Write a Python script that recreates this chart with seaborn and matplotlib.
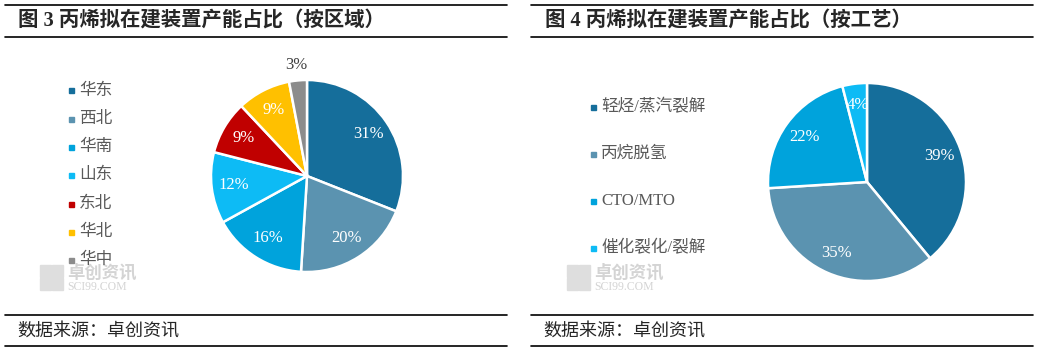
import matplotlib
matplotlib.use("Agg")
import matplotlib.pyplot as plt
from matplotlib.lines import Line2D
from matplotlib.patches import Rectangle
import seaborn as sns

# ---- data ----
region_labels = ["华东", "西北", "华南", "山东", "东北", "华北", "华中"]
region_share = [31, 20, 16, 12, 9, 9, 3]
region_colors = ["#156E9B", "#5B93B0", "#00A3DC", "#0DBBF5", "#C00000", "#FFC000", "#8C8C8C"]

process_labels = ["轻烃/蒸汽裂解", "丙烷脱氢", "CTO/MTO", "催化裂化/裂解"]
process_share = [39, 35, 22, 4]
process_colors = ["#156E9B", "#5B93B0", "#00A3DC", "#0DBBF5"]

W, H = 1037, 352
sns.set_theme(style="white")
plt.rcParams['font.family'] = ['Noto Sans CJK SC', 'DejaVu Sans']

fig = plt.figure(figsize=(W / 100, H / 100), dpi=100)


def fx(x):
    return x / W


def fy(y):
    return 1 - y / H


def hline(x0, x1, y, lw=1.2):
    fig.add_artist(Line2D([fx(x0), fx(x1)], [fy(y), fy(y)], color="black",
                          lw=lw, transform=fig.transFigure))


def draw_pie(cx, cy, r, values, colors, pctdist, half=120):
    ax = fig.add_axes([fx(cx - half), fy(cy + half), 2 * half / W, 2 * half / H])
    lim = half / r
    wedges, texts, autotexts = ax.pie(
        values, colors=colors, startangle=90, counterclock=False,
        autopct=lambda p: f"{p:.0f}%", pctdistance=pctdist,
        wedgeprops=dict(edgecolor="white", linewidth=1.8),
        textprops=dict(color="white", fontsize=12, family="Liberation Serif"))
    ax.set_xlim(-lim, lim)
    ax.set_ylim(-lim, lim)
    ax.set_aspect("equal")
    ax.axis("off")
    return ax, wedges, autotexts


def legend(x, ys, labels, colors):
    for y, lab, c in zip(ys, labels, colors):
        fig.add_artist(Rectangle((fx(x), fy(y + 2.5)), 5 / W, 5 / H, color=c,
                                 transform=fig.transFigure, zorder=5))
        fig.text(fx(x + 10), fy(y), lab, fontsize=12, color="#595959",
                 va="center", ha="left", family=["Liberation Serif", "Noto Sans CJK SC"],
                 zorder=5)


def watermark(x, y):
    # faint company logo in the lower-left corner of each panel
    for dx, dy in [(0, 0), (12, 0), (0, 13), (12, 13)]:
        fig.add_artist(Rectangle((fx(x + dx), fy(y + dy + 12)), 11 / W, 12 / H,
                                 color="#dedede", transform=fig.transFigure, zorder=1))
    fig.text(fx(x + 27), fy(y + 8), "卓创资讯", fontsize=12.5, color="#d4d4d4",
             weight="bold", va="center", ha="left", zorder=1)
    fig.text(fx(x + 27), fy(y + 22.5), "SCI99.COM", fontsize=8.5, color="#d4d4d4",
             family="Liberation Serif", va="center", ha="left", zorder=1)


# ---- frame lines and titles ----
for x0, x1 in [(5, 507), (531, 1033)]:
    hline(x0, x1, 5)
    hline(x0, x1, 37)
    hline(x0, x1, 315)
    hline(x0, x1, 346)

title_font = ["Liberation Serif", "Noto Sans CJK SC"]
fig.text(fx(18), fy(21.5), "图 3 丙烯拟在建装置产能占比（按区域）", fontsize=14.7,
         weight="bold", va="center", ha="left", family=title_font)
fig.text(fx(545), fy(21.5), "图 4 丙烯拟在建装置产能占比（按工艺）", fontsize=14.7,
         weight="bold", va="center", ha="left", family=title_font)
fig.text(fx(17), fy(332), "数据来源：卓创资讯", fontsize=13, va="center", ha="left")
fig.text(fx(543), fy(332), "数据来源：卓创资讯", fontsize=13, va="center", ha="left")

watermark(40, 265)
watermark(567, 265)

# ---- left pie ----
ax1, w1, a1 = draw_pie(307, 176, 96, region_share, region_colors, 0.77)
a1[-1].set_position((-0.11, 1.16))
a1[-1].set_color("#404040")
legend(69, [90.5, 119, 147, 175, 204, 232, 260], region_labels, region_colors)

# ---- right pie ----
ax2, w2, a2 = draw_pie(867, 182, 99, process_share, process_colors, 0.78)
legend(591, [107, 154, 201, 248], process_labels, process_colors)

fig.savefig("out.png", dpi=100)
